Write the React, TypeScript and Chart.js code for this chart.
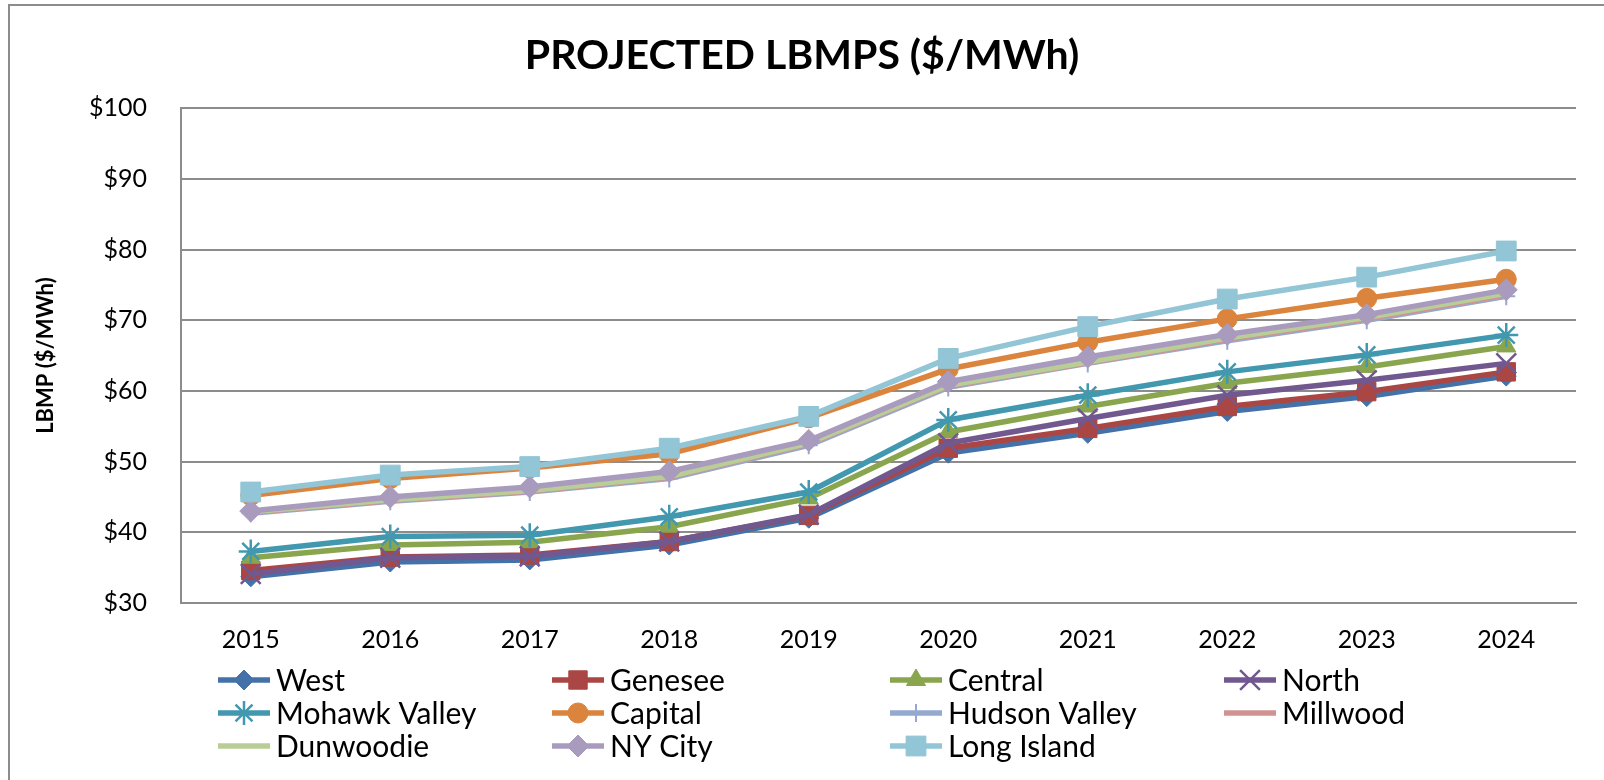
import React, { useEffect, useRef } from 'react';
import { Chart, registerables } from 'chart.js';
import { drawPoint } from 'chart.js/helpers';

Chart.register(...registerables);

const years = ['2015', '2016', '2017', '2018', '2019', '2020', '2021', '2022', '2023', '2024'];
const seriesNames = ['West', 'Genesee', 'Central', 'North', 'Mohawk Valley', 'Capital', 'Hudson Valley', 'Millwood', 'Dunwoodie', 'NY City', 'Long Island'];
const west = [33.7, 35.8, 36.1, 38.2, 42.0, 51.2, 54.0, 57.1, 59.2, 62.1];
const genesee = [34.6, 36.5, 36.8, 38.7, 42.4, 51.9, 54.7, 57.8, 59.9, 62.7];
const central = [36.4, 38.2, 38.6, 40.8, 44.8, 54.2, 57.8, 61.1, 63.4, 66.3];
const north = [34.1, 36.4, 36.6, 38.7, 42.5, 52.6, 56.1, 59.4, 61.5, 63.9];
const mohawkValley = [37.3, 39.4, 39.6, 42.2, 45.7, 55.9, 59.4, 62.7, 65.1, 67.9];
const capital = [45.2, 47.6, 49.1, 51.1, 56.2, 63.1, 66.9, 70.2, 73.1, 75.8];
const hudsonValley = [42.7, 44.4, 45.7, 47.6, 52.3, 60.5, 63.9, 67.1, 70.0, 73.4];
const millwood = [42.8, 44.5, 45.8, 47.8, 52.5, 60.7, 64.0, 67.3, 70.2, 73.6];
const dunwoodie = [42.9, 44.6, 45.9, 47.9, 52.6, 60.8, 64.1, 67.5, 70.4, 73.8];
const nyCity = [43.0, 45.0, 46.4, 48.6, 53.0, 61.3, 64.8, 68.0, 70.8, 74.3];
const longIsland = [45.7, 48.1, 49.3, 51.9, 56.4, 64.6, 69.1, 73.0, 76.1, 79.8];
const yTicks = [30, 40, 50, 60, 70, 80, 90, 100];

const seriesValues = [west, genesee, central, north, mohawkValley, capital, hudsonValley, millwood, dunwoodie, nyCity, longIsland];
const colors = ['#4472A8', '#AA4643', '#89A54E', '#71588F', '#4198AF', '#DB843D', '#93A9CF', '#D19392', '#B9CD96', '#A99BBD', '#92C5D6'];
const styles: any[] = ['rectRot', 'rect', 'triangle', 'crossRot', 'star', 'circle', 'cross', false, false, 'rectRot', 'rect'];
const radii = [10, 13, 11, 14, 12, 10, 9, 0, 0, 11, 14];
const pBorder = [1, 1, 1, 2.5, 2.5, 1, 2, 0, 0, 1, 1];

const FONT = 'Lato';

const legendPlugin = {
  id: 'gridLegend',
  afterDraw(chart: any) {
    const ctx = chart.ctx;
    const colX = [218, 552, 890, 1224];
    const rowY = [680, 713, 746];
    const lineLen = 52;
    ctx.save();
    chart.data.datasets.forEach((ds: any, i: number) => {
      const col = i % 4;
      const row = Math.floor(i / 4);
      const x0 = colX[col];
      const y = rowY[row];
      ctx.strokeStyle = ds.borderColor;
      ctx.lineWidth = ds.borderWidth;
      ctx.lineCap = 'butt';
      ctx.beginPath();
      ctx.moveTo(x0, y);
      ctx.lineTo(x0 + lineLen, y);
      ctx.stroke();
      if (ds.pointStyle) {
        ctx.fillStyle = ds.pointBackgroundColor;
        ctx.strokeStyle = ds.pointBorderColor;
        ctx.lineWidth = ds.pointBorderWidth;
        drawPoint(ctx, { pointStyle: ds.pointStyle, rotation: 0, radius: ds.pointRadius, borderWidth: ds.pointBorderWidth } as any, x0 + lineLen / 2, y);
      }
      ctx.fillStyle = '#000';
      ctx.font = `30px ${FONT}`;
      ctx.textBaseline = 'middle';
      ctx.textAlign = 'left';
      ctx.fillText(ds.label, x0 + lineLen + 6, y + 1);
    });
    ctx.restore();
  },
};

export default function App() {
  const ref = useRef<HTMLCanvasElement>(null);
  useEffect(() => {
    if (!ref.current) return;
    const datasets = seriesNames.map((name, i) => ({
      label: name,
      data: seriesValues[i],
      borderColor: colors[i],
      backgroundColor: colors[i],
      borderWidth: 5.5,
      tension: 0,
      pointStyle: styles[i],
      pointRadius: radii[i],
      pointBackgroundColor: colors[i],
      pointBorderColor: colors[i],
      pointBorderWidth: pBorder[i],
      order: seriesNames.length - i,
    }));
    const chart = new Chart(ref.current, {
      type: 'line',
      data: { labels: years, datasets },
      options: {
        responsive: false,
        animation: false,
        layout: { padding: { left: 28, right: 28, top: 0, bottom: 103 } },
        plugins: {
          legend: { display: false },
          tooltip: { enabled: false },
          title: {
            display: true,
            text: 'PROJECTED LBMPS ($/MWh)',
            color: '#000',
            font: { family: FONT, size: 41, weight: 'bold', lineHeight: 1.2 },
            padding: { top: 31, bottom: 28 },
          },
        },
        scales: {
          x: {
            offset: true,
            grid: { display: false, drawTicks: false },
            border: { color: '#8c8c8c', width: 2 },
            ticks: { color: '#000', font: { family: FONT, size: 25 }, padding: 22, maxRotation: 0 },
          },
          y: {
            min: yTicks[0],
            max: yTicks[yTicks.length - 1],
            afterBuildTicks: (s: any) => { s.ticks = yTicks.map((v) => ({ value: v })); },
            afterFit: (s: any) => { s.width = 153; },
            ticks: { color: '#000', font: { family: FONT, size: 25 }, padding: 34, callback: (v: any) => '$' + v },
            grid: { color: '#8c8c8c', lineWidth: 2, drawTicks: false },
            border: { color: '#8c8c8c', width: 2 },
            title: {
              display: true,
              text: 'LBMP ($/MWh)',
              color: '#000',
              font: { family: FONT, size: 22, weight: 'bold', lineHeight: 1.2 },
              padding: { top: 5, bottom: 0 },
            },
          },
        },
      },
      plugins: [legendPlugin],
    } as any);
    return () => chart.destroy();
  }, []);
  return (
    <div style={{ position: 'fixed', left: 0, top: 0, width: 1604, height: 780, background: '#fff', overflow: 'hidden' }}>
      <canvas ref={ref} width={1604} height={780} style={{ position: 'absolute', left: 0, top: 0, width: 1604, height: 780 }} />
      <div style={{ position: 'absolute', left: 8, top: 4, width: 1640, height: 820, border: '2px solid #8c8c8c', pointerEvents: 'none' }} />
    </div>
  );
}
